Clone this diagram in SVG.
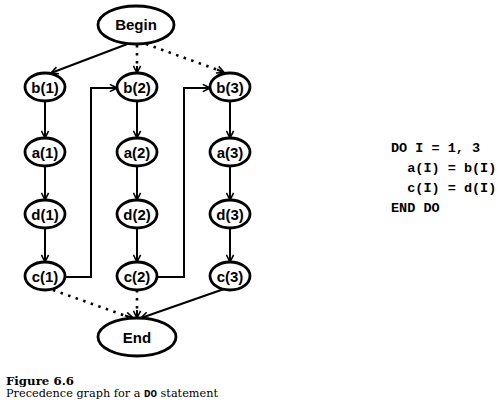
<svg xmlns="http://www.w3.org/2000/svg" width="503" height="416" viewBox="0 0 503 416">
<defs>
<marker id="ah" viewBox="0 0 10 10" refX="9" refY="5" markerWidth="9" markerHeight="9" markerUnits="userSpaceOnUse" orient="auto">
<path d="M1,1 L9,5 L1,9" fill="none" stroke="#000" stroke-width="1.8"/>
</marker>
<style>
.n ellipse{fill:#fff;stroke:#000;stroke-width:2.8}
.n text{font-family:"Liberation Sans",Arial,sans-serif;font-weight:bold;font-size:15px;text-anchor:middle;fill:#000}
.e{fill:none;stroke:#000;stroke-width:2;marker-end:url(#ah)}
.d{fill:none;stroke:#000;stroke-width:2.6;stroke-dasharray:2.5 5.5;stroke-linecap:butt}
.code{font-family:"Liberation Mono","Courier New",monospace;font-weight:bold;font-size:13.5px;fill:#000;white-space:pre}
.cap{font-family:"DejaVu Serif","Liberation Serif",serif;fill:#000}
</style>
</defs>
<rect width="503" height="416" fill="#fff"/>
<g id="connectors">
<path class="e" d="M130,43 L51,73"/>
<path class="d" d="M137,45 L137,67"/><path class="e" d="M137,66 L137,73"/>
<path class="d" d="M146,44 L218,70"/><path class="e" d="M217,69.5 L224,72.5"/>
<path class="e" d="M45,101 L45,138"/>
<path class="e" d="M137,101 L137,138"/>
<path class="e" d="M230,101 L230,138"/>
<path class="e" d="M45,166 L45,200"/>
<path class="e" d="M137,166 L137,200"/>
<path class="e" d="M230,166 L230,200"/>
<path class="e" d="M45,228 L45,262"/>
<path class="e" d="M137,228 L137,262"/>
<path class="e" d="M230,228 L230,262"/>
<path class="e" d="M65,277 L91,277 L91,88 L117,88"/>
<path class="e" d="M157,277 L184,277 L184,88 L210,88"/>
<path class="d" d="M53,290 L126,316"/><path class="e" d="M125,315.5 L133,318"/>
<path class="d" d="M137,290 L137,311"/><path class="e" d="M137,310 L137,318"/>
<path class="e" d="M224,289 L141,318"/>
</g>
<g id="begin" class="n"><ellipse cx="136" cy="25" rx="38" ry="19"/><text x="136" y="30">Begin</text></g>
<g id="b1" class="n"><ellipse cx="45" cy="87" rx="20" ry="14"/><text x="45" y="92.5">b(1)</text></g>
<g id="b2" class="n"><ellipse cx="137" cy="87" rx="20" ry="14"/><text x="137" y="92.5">b(2)</text></g>
<g id="b3" class="n"><ellipse cx="230" cy="87" rx="20" ry="14"/><text x="230" y="92.5">b(3)</text></g>
<g id="a1" class="n"><ellipse cx="45" cy="152" rx="20" ry="14"/><text x="45" y="157.5">a(1)</text></g>
<g id="a2" class="n"><ellipse cx="137" cy="152" rx="20" ry="14"/><text x="137" y="157.5">a(2)</text></g>
<g id="a3" class="n"><ellipse cx="230" cy="152" rx="20" ry="14"/><text x="230" y="157.5">a(3)</text></g>
<g id="d1" class="n"><ellipse cx="45" cy="214" rx="20" ry="14"/><text x="45" y="219.5">d(1)</text></g>
<g id="d2" class="n"><ellipse cx="137" cy="214" rx="20" ry="14"/><text x="137" y="219.5">d(2)</text></g>
<g id="d3" class="n"><ellipse cx="230" cy="214" rx="20" ry="14"/><text x="230" y="219.5">d(3)</text></g>
<g id="c1" class="n"><ellipse cx="45" cy="276" rx="20" ry="14"/><text x="45" y="281.5">c(1)</text></g>
<g id="c2" class="n"><ellipse cx="137" cy="276" rx="20" ry="14"/><text x="137" y="281.5">c(2)</text></g>
<g id="c3" class="n"><ellipse cx="230" cy="276" rx="20" ry="14"/><text x="230" y="281.5">c(3)</text></g>
<g id="end" class="n"><ellipse cx="137" cy="337" rx="39" ry="19"/><text x="137" y="342.5">End</text></g>
<g id="code">
<text class="code" x="391" y="152">DO I = 1, 3</text>
<text class="code" x="391" y="172">  a(I) = b(I)</text>
<text class="code" x="391" y="192">  c(I) = d(I)</text>
<text class="code" x="391" y="212">END DO</text>
</g>
<g id="caption">
<text class="cap" x="6" y="385" font-size="11" font-weight="bold" textLength="68" lengthAdjust="spacingAndGlyphs">Figure 6.6</text>
<text class="cap" x="6" y="397" font-size="10.5" textLength="212" lengthAdjust="spacingAndGlyphs">Precedence graph for a <tspan font-family="'Liberation Mono',monospace" font-weight="bold" font-size="10">DO</tspan> statement</text>
</g>
</svg>
